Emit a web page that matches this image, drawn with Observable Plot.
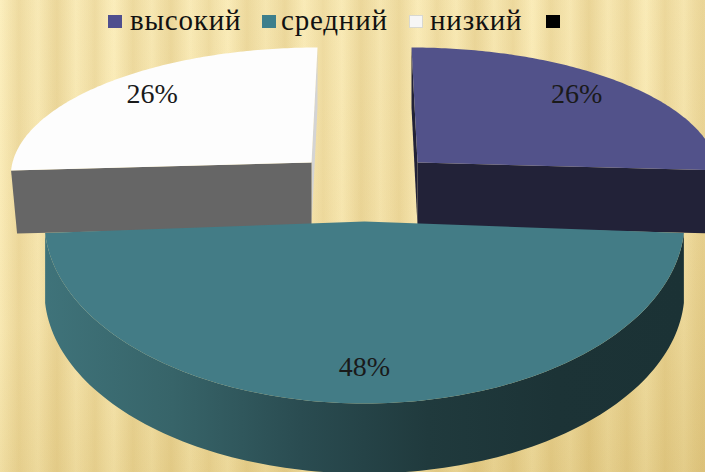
<!DOCTYPE html>
<html>
<head>
<meta charset="utf-8">
<script src="https://cdn.jsdelivr.net/npm/d3@7"></script>
<script src="https://cdn.jsdelivr.net/npm/@observablehq/plot@0.6"></script>
<style>
  html, body { margin: 0; padding: 0; overflow: hidden; }
  #stage {
    position: relative; width: 705px; height: 472px; overflow: hidden;
    background:
      repeating-linear-gradient(90deg,
        rgba(190,150,60,0.00) 0px, rgba(190,150,60,0.20) 19px, rgba(190,150,60,0.00) 38px),
      repeating-linear-gradient(90deg,
        rgba(190,150,60,0.00) 0px, rgba(190,150,60,0.09) 53px, rgba(190,150,60,0.00) 107px),
      linear-gradient(165deg, #fcefbe 0%, #f8e8b2 50%, #eedb9e 78%, #e6d08e 100%);
  }
  #stage svg { position: absolute; left: 0; top: 0; }
  #legend { position: absolute; left: 0; top: 0; width: 705px; height: 44px; font-family: "Liberation Serif", serif; font-size: 29px; color: #111; }
  #legend .sw { position: absolute; top: 15px; width: 14px; height: 13px; box-sizing: border-box; }
  #legend .lb { position: absolute; top: 3px; line-height: 34px; white-space: nowrap; letter-spacing: 0.8px; }
</style>
</head>
<body>
<div id="stage"></div>
<script>
const categories = ["высокий", "средний", "низкий", ""];
const shares = [26, 48, 26, 0];
const labels = ["26%", "48%", "26%", ""];
const topColors = ["#52528a", "#437c86", "#fdfdfd", "#000000"];
const swatchColors = ["#4f4f8e", "#3d7f8c", "#f6f6f6", "#000000"];
const cutColors = ["#222238", null, "#666666", null];

// Legend placement
const legendSwatchX = [108, 262, 409, 546];
const legendLabelX = [130, 281, 430, null];

// Projection of each exploded slice on the page
const geometry = [
  {ax: 417, ay: 162, R: 299, A: 125, k: 0.087, lean: 6, depth: 62, labelLift: 5},
  {ax: 364, ay: 221, R: 320, A: 182, k: 0, lean: 0, depth: 70, labelLift: -4},
  {ax: 311, ay: 162, R: 299, A: 125, k: 0.087, lean: -6, depth: 62, labelLift: 5}
];
const labelRadius = 0.78;

const pie = d3.pie().sort(null).value(d => d)(shares);

function project(g, a, f = 1) {
  const X = Math.sin(a) * f, Y = -Math.cos(a) * f;
  const s = 1 / (1 - g.k * Y);
  return {x: g.ax + g.R * X * s + g.lean * Y, y: g.ay + g.A * Y * s};
}
function arcPoints(g, a0, a1) {
  const n = 120;
  return d3.range(n + 1).map(i => project(g, a0 + (a1 - a0) * i / n));
}
const face = (points, fill) => Plot.line([...points, points[0]], {x: "x", y: "y", fill, stroke: "none"});
const down = (p, d, shift = 0) => ({x: p.x + shift, y: p.y + d});

const gradientMark = () => {
  const ns = "http://www.w3.org/2000/svg";
  const defs = document.createElementNS(ns, "defs");
  const grad = document.createElementNS(ns, "linearGradient");
  grad.setAttribute("id", "tealSide");
  grad.setAttribute("gradientUnits", "userSpaceOnUse");
  grad.setAttribute("x1", "44"); grad.setAttribute("x2", "684");
  grad.setAttribute("y1", "0"); grad.setAttribute("y2", "0");
  [[0, "#3f737a"], [0.2, "#376469"], [0.4, "#2a4c51"], [0.6, "#203a3d"], [0.8, "#1c3336"], [1, "#1b3235"]].forEach(([o, c]) => {
    const st = document.createElementNS(ns, "stop");
    st.setAttribute("offset", o); st.setAttribute("stop-color", c);
    grad.appendChild(st);
  });
  defs.appendChild(grad);
  return defs;
};

const marks = [gradientMark];
// back slices: cut faces and top faces
[0, 2].forEach(i => {
  const g = geometry[i], p = pie[i];
  const arc = arcPoints(g, p.startAngle, p.endAngle);
  const apex = {x: g.ax, y: g.ay};
  const back = i === 0 ? arc[0] : arc[arc.length - 1];
  const front = i === 0 ? arc[arc.length - 1] : arc[0];
  const inward = i === 0 ? -6 : 6;
  // inner wall towards the gap
  marks.push(face([back, down(back, 60), down(apex, g.depth + 2), apex], i === 0 ? "#222238" : "#d4d4d4"));
  // front cut face, its lower edge tucked under the front slice
  marks.push(face([apex, front, down(front, g.depth + 1, inward), down(apex, g.depth + 2)], cutColors[i]));
  // top
  marks.push(face([apex, ...arc], topColors[i]));
});
// front slice: rim and top
{
  const g = geometry[1], p = pie[1];
  const arc = arcPoints(g, p.startAngle, p.endAngle);
  marks.push(face([...arc, ...arc.slice().reverse().map(q => down(q, g.depth))], "url(#tealSide)"));
  marks.push(face([{x: g.ax, y: g.ay}, ...arc], topColors[1]));
}
// value labels
const labelRows = [0, 1, 2].map(i => {
  const g = geometry[i], p = pie[i];
  const q = project(g, (p.startAngle + p.endAngle) / 2, labelRadius);
  return {x: q.x, y: q.y - g.labelLift, label: labels[i]};
});
marks.push(Plot.text(labelRows, {
  x: "x", y: "y", text: "label", fontFamily: "Liberation Serif", fontSize: 28,
  fill: "#1a1a1a", textAnchor: "middle", lineAnchor: "middle"
}));

const chart = Plot.plot({
  width: 705, height: 472, margin: 0,
  x: {domain: [0, 705], range: [0, 705], axis: null},
  y: {domain: [0, 472], range: [0, 472], axis: null},
  style: {background: "transparent"},
  marks
});
const stage = document.getElementById("stage");
stage.appendChild(chart);

const legend = document.createElement("div");
legend.id = "legend";
categories.forEach((c, i) => {
  const sw = document.createElement("div");
  sw.className = "sw";
  sw.style.left = legendSwatchX[i] + "px";
  sw.style.background = swatchColors[i];
  if (i === 2) sw.style.border = "1px solid #d8d8d0";
  legend.appendChild(sw);
  if (c) {
    const lb = document.createElement("div");
    lb.className = "lb";
    lb.style.left = legendLabelX[i] + "px";
    lb.textContent = c;
    legend.appendChild(lb);
  }
});
stage.appendChild(legend);
</script>
</body>
</html>
